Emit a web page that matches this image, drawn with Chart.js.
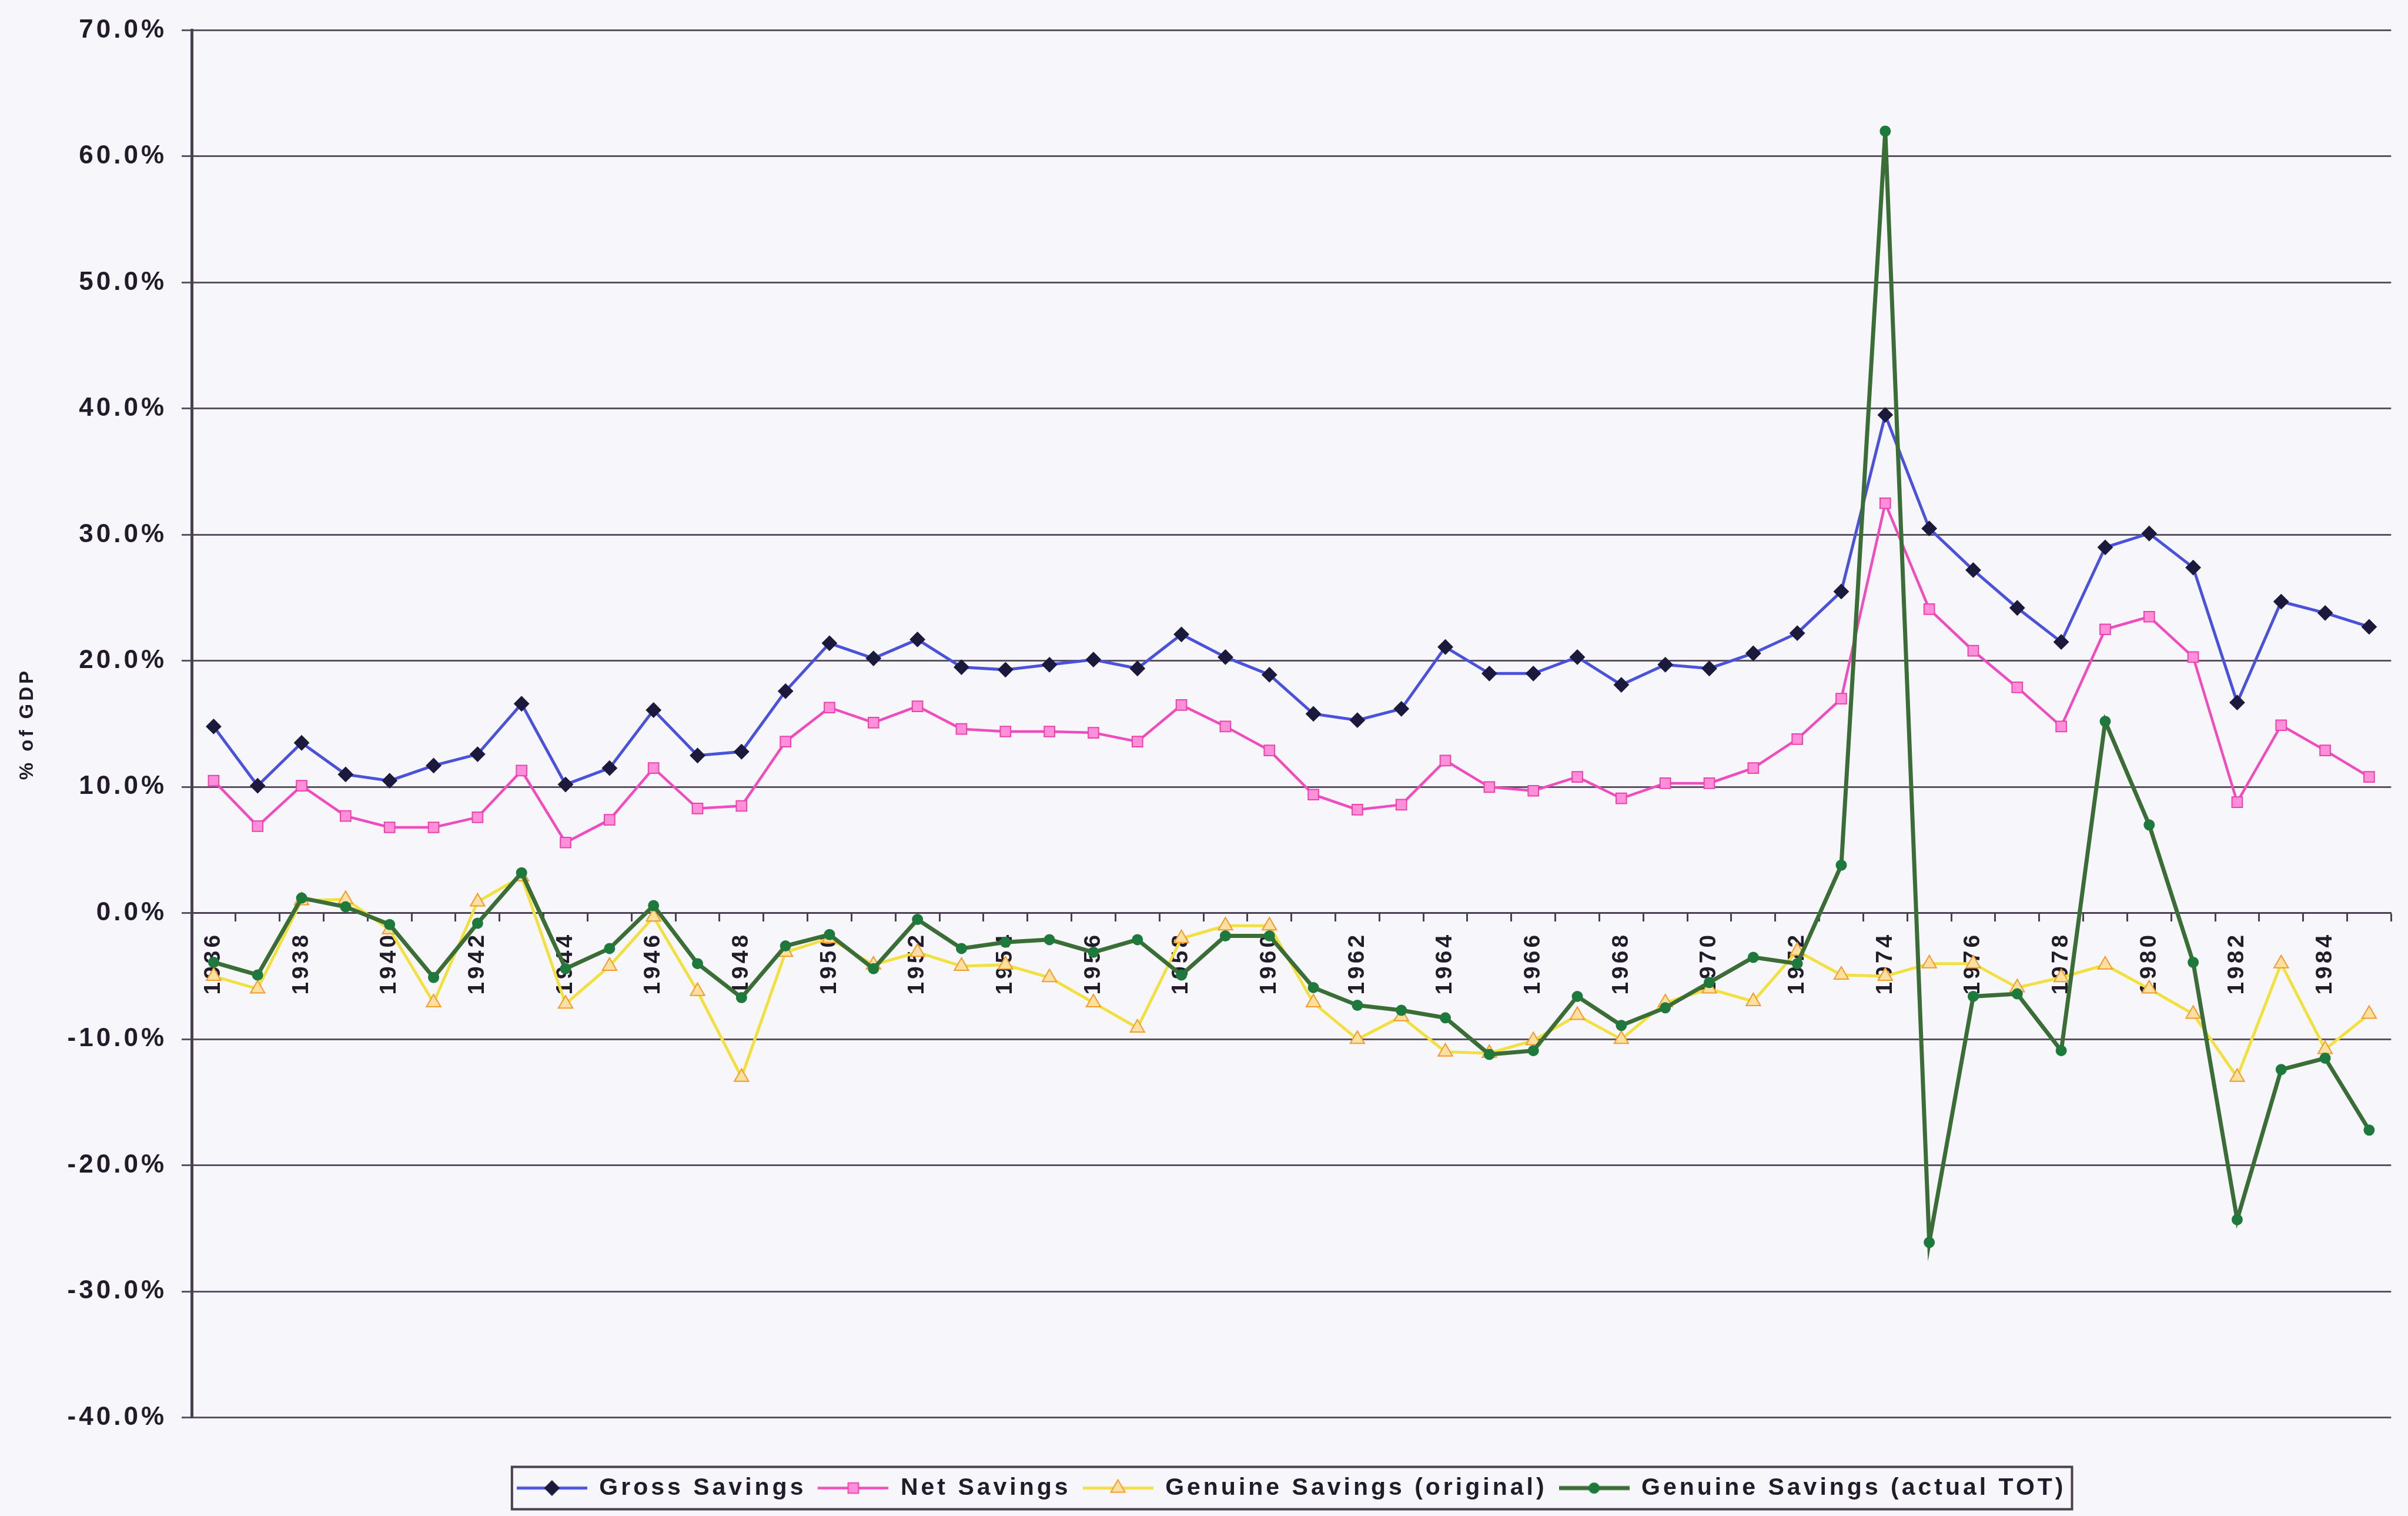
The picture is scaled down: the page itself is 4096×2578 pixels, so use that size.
<!DOCTYPE html>
<html>
<head>
<meta charset="utf-8">
<script src="https://cdn.jsdelivr.net/npm/chart.js@4.4.1/dist/chart.umd.min.js"></script>
<style>
  html, body { margin: 0; padding: 0; background: #f7f7fb; }
  canvas { display: block; }
</style>
</head>
<body>
<canvas id="savingsChart" width="4096" height="2578"></canvas>
<script>
// -----------------------------
// Data (% of GDP, 1936-1985)
// -----------------------------
const years = [
  '1936', '1937', '1938', '1939', '1940', '1941', '1942', '1943', '1944', '1945',
  '1946', '1947', '1948', '1949', '1950', '1951', '1952', '1953', '1954', '1955',
  '1956', '1957', '1958', '1959', '1960', '1961', '1962', '1963', '1964', '1965',
  '1966', '1967', '1968', '1969', '1970', '1971', '1972', '1973', '1974', '1975',
  '1976', '1977', '1978', '1979', '1980', '1981', '1982', '1983', '1984', '1985'
];

// only every other year is labelled on the axis
const shownYears = [
  '1936', '1938', '1940', '1942', '1944', '1946', '1948', '1950', '1952', '1954',
  '1956', '1958', '1960', '1962', '1964', '1966', '1968', '1970', '1972', '1974',
  '1976', '1978', '1980', '1982', '1984'
];

const yTickValues = [-40, -30, -20, -10, 0, 10, 20, 30, 40, 50, 60, 70];

const grossSavings = [
  14.8, 10.1, 13.5, 11.0, 10.5, 11.7, 12.6, 16.6, 10.2, 11.5,
  16.1, 12.5, 12.8, 17.6, 21.4, 20.2, 21.7, 19.5, 19.3, 19.7,
  20.1, 19.4, 22.1, 20.3, 18.9, 15.8, 15.3, 16.2, 21.1, 19.0,
  19.0, 20.3, 18.1, 19.7, 19.4, 20.6, 22.2, 25.5, 39.5, 30.5,
  27.2, 24.2, 21.5, 29.0, 30.1, 27.4, 16.7, 24.7, 23.8, 22.7
];

const netSavings = [
  10.5, 6.9, 10.1, 7.7, 6.8, 6.8, 7.6, 11.3, 5.6, 7.4,
  11.5, 8.3, 8.5, 13.6, 16.3, 15.1, 16.4, 14.6, 14.4, 14.4,
  14.3, 13.6, 16.5, 14.8, 12.9, 9.4, 8.2, 8.6, 12.1, 10.0,
  9.7, 10.8, 9.1, 10.3, 10.3, 11.5, 13.8, 17.0, 32.5, 24.1,
  20.8, 17.9, 14.8, 22.5, 23.5, 20.3, 8.8, 14.9, 12.9, 10.8
];

const genuineOriginal = [
  -5.0, -6.0, 1.0, 1.1, -1.3, -7.1, 0.9, 2.9, -7.2, -4.2,
  -0.3, -6.2, -13.0, -3.1, -2.0, -4.1, -3.1, -4.2, -4.1, -5.1,
  -7.1, -9.1, -2.0, -1.0, -1.0, -7.1, -10.0, -8.2, -11.0, -11.1,
  -10.1, -8.1, -10.0, -7.1, -6.0, -7.0, -3.0, -4.9, -5.0, -4.0,
  -4.0, -5.9, -5.1, -4.1, -6.0, -8.0, -13.0, -4.0, -10.8, -8.0
];

const genuineActualTot = [
  -3.9, -4.9, 1.2, 0.5, -0.9, -5.1, -0.8, 3.2, -4.4, -2.8,
  0.6, -4.0, -6.7, -2.6, -1.7, -4.4, -0.5, -2.8, -2.3, -2.1,
  -3.1, -2.1, -4.9, -1.8, -1.8, -5.9, -7.3, -7.7, -8.3, -11.2,
  -10.9, -6.6, -8.9, -7.5, -5.5, -3.5, -4.0, 3.8, 62.0, -26.1,
  -6.6, -6.4, -10.9, 15.2, 7.0, -3.9, -24.3, -12.4, -11.5, -17.2
];

// -----------------------------
// Styling
// -----------------------------
const FONT = "'Liberation Sans', Arial, sans-serif";
const TEXT_COLOR = '#221c2a';
const GRID_COLOR = '#5a5262';
const AXIS_COLOR = '#4a4052';

const series = [
  { label: 'Gross Savings', data: grossSavings, line: '#4a52dc', width: 5,
    style: 'rectRot', radius: 12, fill: '#1c1a3c', stroke: '#1c1a3c' },
  { label: 'Net Savings', data: netSavings, line: '#f04cc0', width: 4.5,
    style: 'rect', radius: 12.5, fill: '#ff8fd8', stroke: '#f040b0' },
  { label: 'Genuine Savings (original)', data: genuineOriginal, line: '#f2e040', width: 5,
    style: 'triangle', radius: 14, fill: '#fbe0a0', stroke: '#f39a2a' },
  { label: 'Genuine Savings (actual TOT)', data: genuineActualTot, line: '#3a6e36', width: 7,
    style: 'circle', radius: 8.5, fill: '#1d7a3c', stroke: '#1d7a3c' }
];

// -----------------------------
// Legend swatches: line segment with the marker in the middle
// -----------------------------
function legendIcon(s) {
  const c = document.createElement('canvas');
  c.width = 120;
  c.height = 40;
  const g = c.getContext('2d');
  g.strokeStyle = s.line;
  g.lineWidth = s.width;
  g.beginPath();
  g.moveTo(0, 20);
  g.lineTo(120, 20);
  g.stroke();

  const r = s.radius;
  g.fillStyle = s.fill;
  g.strokeStyle = s.stroke;
  g.lineWidth = 2;
  g.beginPath();
  if (s.style === 'rectRot') {
    g.moveTo(60 - r, 20); g.lineTo(60, 20 - r); g.lineTo(60 + r, 20); g.lineTo(60, 20 + r);
  } else if (s.style === 'rect') {
    const h = r * Math.SQRT1_2;
    g.rect(60 - h, 20 - h, 2 * h, 2 * h);
  } else if (s.style === 'triangle') {
    g.moveTo(60, 20 - r); g.lineTo(60 + r * 0.866, 20 + r / 2); g.lineTo(60 - r * 0.866, 20 + r / 2);
  } else {
    g.arc(60, 20, r, 0, Math.PI * 2);
  }
  g.closePath();
  g.fill();
  g.stroke();
  return c;
}

const legendIcons = series.map(legendIcon);

// -----------------------------
// Plugins
// -----------------------------
// spaced-out lettering, set again after every canvas reset
const textSpacing = {
  id: 'textSpacing',
  beforeLayout(chart) { chart.ctx.letterSpacing = '5px'; },
  beforeDraw(chart) { chart.ctx.letterSpacing = '5px'; }
};

// frame around the legend row
const legendFrame = {
  id: 'legendFrame',
  afterDraw(chart) {
    const boxes = chart.legend.legendHitBoxes;
    if (!boxes || !boxes.length) return;
    const first = boxes[0];
    const last = boxes[boxes.length - 1];
    const cy = first.top + first.height / 2;
    const left = first.left - 8;
    const right = last.left + last.width + 10;
    const ctx = chart.ctx;
    ctx.save();
    ctx.strokeStyle = AXIS_COLOR;
    ctx.lineWidth = 4;
    ctx.strokeRect(left, cy - 36, right - left, 72);
    ctx.restore();
  }
};

// -----------------------------
// Chart
// -----------------------------
const datasets = series.map((s, i) => ({
  label: s.label,
  data: s.data,
  order: series.length - i,
  borderColor: s.line,
  borderWidth: s.width,
  backgroundColor: s.fill,
  pointStyle: s.style,
  pointRadius: s.radius,
  pointBackgroundColor: s.fill,
  pointBorderColor: s.stroke,
  pointBorderWidth: 2,
  tension: 0,
  fill: false
}));

new Chart(document.getElementById('savingsChart').getContext('2d'), {
  type: 'line',
  data: { labels: years, datasets },
  options: {
    responsive: false,
    animation: false,
    layout: { padding: { top: 45, right: 6, bottom: 17, left: 0 } },
    plugins: {
      tooltip: { enabled: false },
      legend: {
        position: 'bottom',
        fullSize: false,
        title: { display: true, text: '', font: { size: 1 }, padding: { top: 78, bottom: 0 } },
        labels: {
          usePointStyle: true,
          pointStyleWidth: 120,
          padding: 20,
          color: TEXT_COLOR,
          font: { family: FONT, size: 41, weight: 'bold' },
          generateLabels: chart => chart.data.datasets.map((ds, i) => ({
            text: ds.label,
            pointStyle: legendIcons[i],
            fillStyle: 'transparent',
            strokeStyle: 'transparent',
            lineWidth: 0,
            fontColor: TEXT_COLOR,
            hidden: false,
            datasetIndex: i
          }))
        }
      }
    },
    scales: {
      x: {
        type: 'category',
        position: { y: 0 },
        offset: true,
        grid: {
          display: true,
          drawOnChartArea: false,
          drawTicks: true,
          offset: true,
          tickLength: 13,
          tickWidth: 3,
          tickColor: AXIS_COLOR
        },
        border: { display: true, color: AXIS_COLOR, width: 3 },
        ticks: {
          autoSkip: false,
          minRotation: 90,
          maxRotation: 90,
          padding: 19,
          color: TEXT_COLOR,
          font: { family: FONT, size: 39, weight: 'bold' },
          callback: (value, index) => shownYears.includes(years[index]) ? years[index] : ''
        }
      },
      y: {
        min: -40,
        max: 70,
        afterBuildTicks: scale => { scale.ticks = yTickValues.map(v => ({ value: v })); },
        afterFit: scale => { scale.width = 326; },
        grid: { color: GRID_COLOR, lineWidth: 3, drawTicks: true, tickLength: 17, tickColor: GRID_COLOR },
        border: { color: AXIS_COLOR, width: 5 },
        ticks: {
          padding: 25,
          color: TEXT_COLOR,
          font: { family: FONT, size: 44, weight: 'bold' },
          callback: v => v.toFixed(1) + '%'
        },
        title: {
          display: true,
          text: '% of GDP',
          color: TEXT_COLOR,
          font: { family: FONT, size: 33, weight: 'bold' },
          padding: { top: 27, bottom: 0 }
        }
      }
    }
  },
  plugins: [textSpacing, legendFrame]
});
</script>
</body>
</html>
